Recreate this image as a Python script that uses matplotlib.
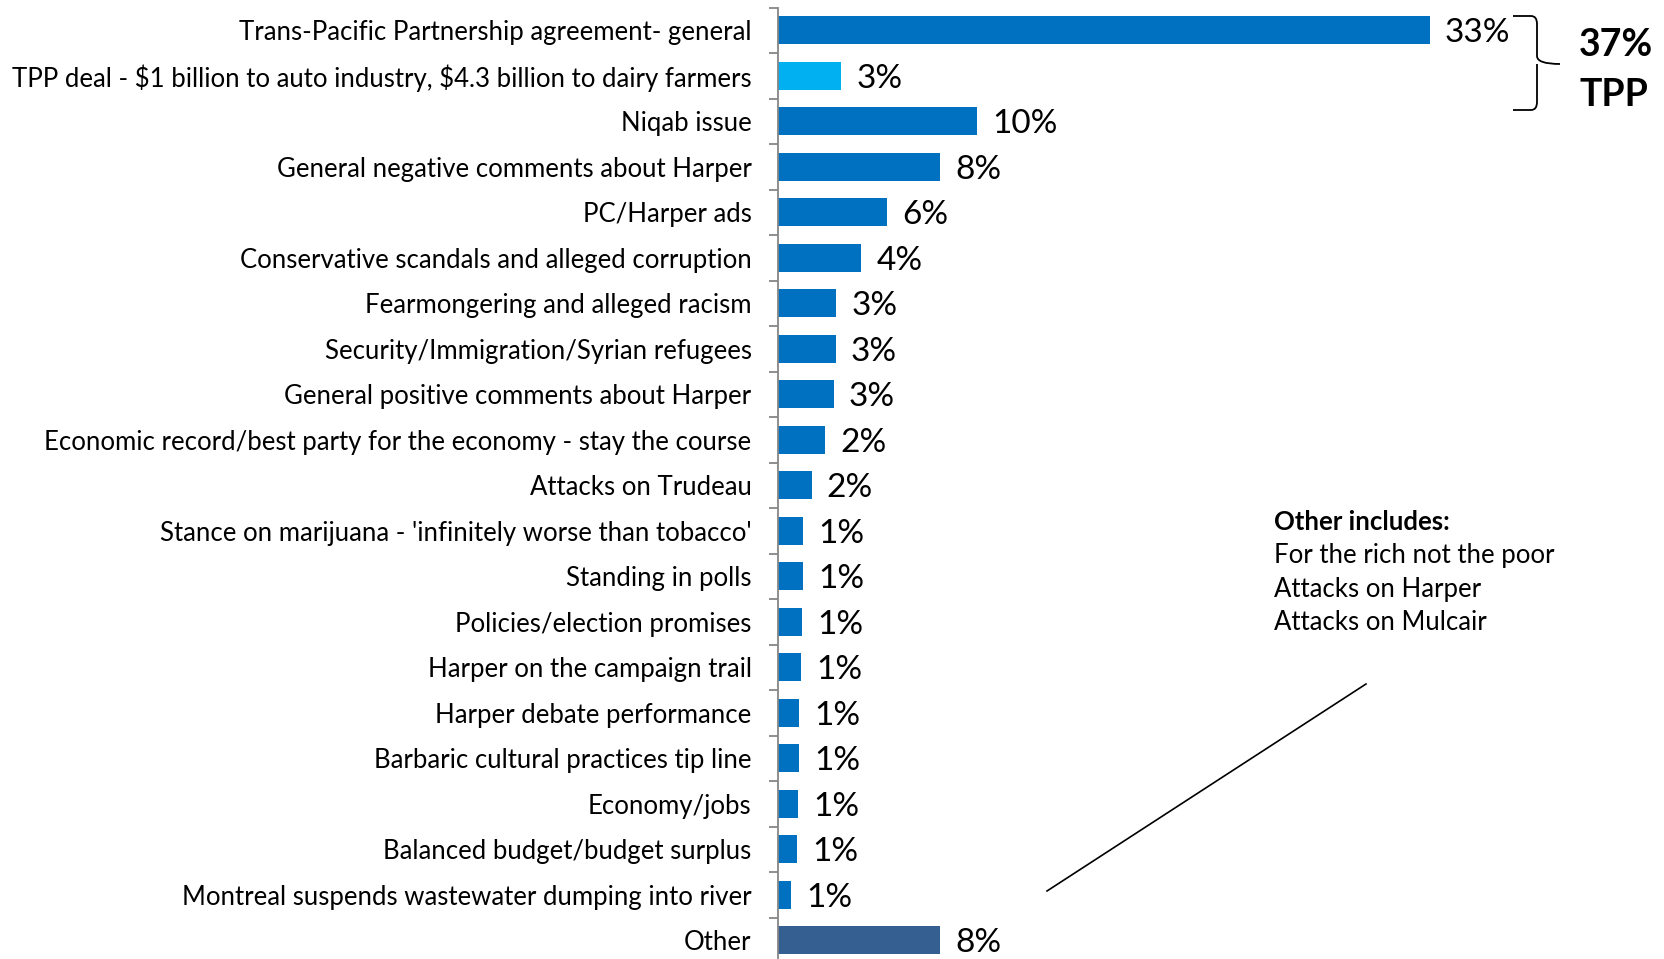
import numpy as np
import matplotlib
matplotlib.use("Agg")
import matplotlib.pyplot as plt
from matplotlib.lines import Line2D
from matplotlib.path import Path
from matplotlib.patches import PathPatch

plt.rcParams['font.family'] = ['Lato', 'DejaVu Sans']

# data
categories = [
    "Trans-Pacific Partnership agreement- general",
    "TPP deal - \\$1 billion to auto industry, \\$4.3 billion to dairy farmers",
    "Niqab issue",
    "General negative comments about Harper",
    "PC/Harper ads",
    "Conservative scandals and alleged corruption",
    "Fearmongering and alleged racism",
    "Security/Immigration/Syrian refugees",
    "General positive comments about Harper",
    "Economic record/best party for the economy - stay the course",
    "Attacks on Trudeau",
    "Stance on marijuana - 'infinitely worse than tobacco'",
    "Standing in polls",
    "Policies/election promises",
    "Harper on the campaign trail",
    "Harper debate performance",
    "Barbaric cultural practices tip line",
    "Economy/jobs",
    "Balanced budget/budget surplus",
    "Montreal suspends wastewater dumping into river",
    "Other",
]
values = [33.0, 3.2, 10.1, 8.2, 5.5, 4.2, 2.95, 2.92, 2.82, 2.4, 1.7,
          1.28, 1.25, 1.24, 1.17, 1.08, 1.05, 1.01, 0.96, 0.64, 8.2]
labels = ["33%", "3%", "10%", "8%", "6%", "4%", "3%", "3%", "3%", "2%", "2%",
          "1%", "1%", "1%", "1%", "1%", "1%", "1%", "1%", "1%", "8%"]
colors = ["#0070C0"] * len(categories)
colors[1] = "#00B0F0"
colors[-1] = "#365F91"

other_items = ["For the rich not the poor", "Attacks on Harper", "Attacks on Mulcair"]

W, H = 1664, 959
fig = plt.figure(figsize=(W / 100, H / 100), dpi=100)

# axes placed so the axis line sits at x=778 px and rows span 7.5..963 px
ax_left = 778 / W
ax_right = 1568 / W
ax_top = 1 - 7.5 / H
ax_bot = 1 - 963 / H
ax = fig.add_axes([ax_left, ax_bot, ax_right - ax_left, ax_top - ax_bot])

y = np.arange(len(categories))
ax.barh(y, values, height=0.615, color=colors)
ax.set_xlim(0, 40)
ax.set_ylim(len(categories) - 0.5, -0.5)

for i, (v, lab) in enumerate(zip(values, labels)):
    ax.annotate(lab, (v, i), xytext=(11, -2), textcoords="offset points",
                va="center", ha="left", fontsize=24, color="black")

for s in ["top", "right", "bottom"]:
    ax.spines[s].set_visible(False)
ax.spines["left"].set_color("#868686")
ax.spines["left"].set_linewidth(1.3)
ax.set_xticks([])
ax.set_yticks(y)
ax.set_yticklabels(categories, fontsize=18.5)
ax.tick_params(axis="y", which="major", length=0, pad=19)
ax.set_yticks(np.arange(-0.5, len(categories), 1), minor=True)
ax.tick_params(axis="y", which="minor", length=6.5, width=1.3, color="#868686")

# curly bracket for the two TPP rows
def fx(px):
    return px / W

def fy(py):
    return 1 - py / H

xl, xm, xr = 1513, 1537, 1560
yt, ym, yb = 16, 64, 110
verts = [(xl, yt), (xm - 6, yt), (xm, yt), (xm, yt + 8),
         (xm, ym - 8), (xm, ym), (xr, ym),
         (xm, ym), (xm, ym + 8), (xm, yb - 8),
         (xm, yb), (xm - 6, yb), (xl, yb)]
verts = [(fx(a), fy(b)) for a, b in verts]
codes = [Path.MOVETO, Path.LINETO, Path.CURVE3, Path.CURVE3,
         Path.LINETO, Path.CURVE3, Path.CURVE3,
         Path.MOVETO, Path.CURVE3, Path.CURVE3,
         Path.CURVE3, Path.CURVE3, Path.LINETO]
brace = PathPatch(Path(verts, codes), transform=fig.transFigure,
                  fill=False, lw=1.3, color="black")
fig.patches.append(brace)

fig.text(fx(1579), fy(45), "37%", fontsize=27, fontweight="bold",
         ha="left", va="center")
fig.text(fx(1579), fy(95), "TPP", fontsize=27, fontweight="bold",
         ha="left", va="center")

# "Other includes" note
fig.text(fx(1274), fy(522), "Other includes:", fontsize=18.5,
         fontweight="bold", ha="left", va="center")
for k, item in enumerate(other_items):
    fig.text(fx(1274), fy(556 + 33.5 * k), item, fontsize=18.5,
             ha="left", va="center")

fig.lines.append(Line2D([fx(1047), fx(1366)], [fy(891), fy(684)],
                        transform=fig.transFigure, color="black", lw=1.2))

fig.savefig("out.png", dpi=100)
